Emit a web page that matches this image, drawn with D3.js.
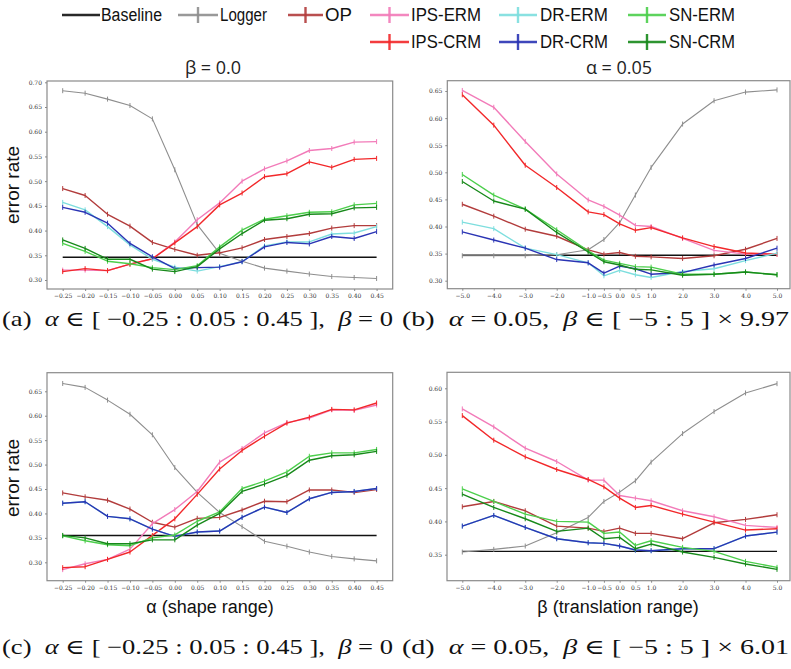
<!DOCTYPE html>
<html><head><meta charset="utf-8">
<script src="https://cdn.jsdelivr.net/npm/d3@7"></script>
<style>body{margin:0;background:#fff}svg{display:block}</style>
</head><body>
<svg id="chart" width="791" height="669"></svg>
<script>
// ---------- DATA ----------
const seriesNames = ["Logger","OP","IPS-ERM","IPS-CRM","DR-ERM","DR-CRM","SN-ERM","SN-CRM"];
const alphaVals = [-0.25,-0.20,-0.15,-0.10,-0.05,0.00,0.05,0.10,0.15,0.20,0.25,0.30,0.35,0.40,0.45];
const betaVals  = [-5,-4,-3,-2,-1,-0.5,0,0.5,1,2,3,4,5];
const alphaTickLabels = ["−0.25","−0.20","−0.15","−0.10","−0.05","0.00","0.05","0.10","0.15","0.20","0.25","0.30","0.35","0.40","0.45"];
const betaTickLabels  = ["−5.0","−4.0","−3.0","−2.0","−1.0","−0.5","0.0","0.5","1.0","2.0","3.0","4.0","5.0"];
const yTicksA = [0.30,0.35,0.40,0.45,0.50,0.55,0.60,0.65,0.70];
const yTicksB = [0.30,0.35,0.40,0.45,0.50,0.55,0.60,0.65];
const yTicksC = [0.30,0.35,0.40,0.45,0.50,0.55,0.60,0.65];
const yTicksD = [0.35,0.40,0.45,0.50,0.55,0.60];

// panel (a)
const aBaseline = 0.346;
const aLogger  = [0.683,0.678,0.666,0.653,0.626,0.523,0.412,0.354,0.338,0.324,0.318,0.312,0.307,0.305,0.303];
const aOP      = [0.485,0.471,0.433,0.409,0.376,0.362,0.350,0.355,0.365,0.382,0.388,0.394,0.405,0.410,0.410];
const aIPSERM  = [0.320,0.320,0.319,0.332,0.343,0.377,0.422,0.456,0.500,0.525,0.541,0.562,0.566,0.579,0.580];
const aIPSCRM  = [0.317,0.323,0.319,0.332,0.343,0.375,0.408,0.452,0.476,0.509,0.515,0.539,0.528,0.544,0.546];
const aDRERM   = [0.457,0.442,0.408,0.371,0.342,0.326,0.318,0.327,0.337,0.369,0.377,0.377,0.393,0.395,0.408];
const aDRCRM   = [0.447,0.437,0.415,0.374,0.347,0.323,0.325,0.326,0.337,0.367,0.376,0.373,0.388,0.384,0.398];
const aSNERM   = [0.374,0.358,0.338,0.333,0.325,0.321,0.329,0.367,0.401,0.423,0.430,0.437,0.438,0.452,0.455];
const aSNCRM   = [0.381,0.364,0.342,0.342,0.322,0.317,0.327,0.363,0.394,0.421,0.424,0.433,0.434,0.446,0.447];

// panel (b)
const bBaseline = 0.347;
const bLogger  = [0.346,0.346,0.346,0.348,0.357,0.376,0.407,0.458,0.509,0.589,0.632,0.648,0.652];
const bOP      = [0.441,0.419,0.395,0.382,0.357,0.349,0.352,0.345,0.344,0.341,0.346,0.358,0.378];
const bIPSERM  = [0.651,0.620,0.557,0.497,0.449,0.437,0.421,0.402,0.400,0.378,0.356,0.349,0.349];
const bIPSCRM  = [0.643,0.587,0.513,0.472,0.427,0.422,0.405,0.393,0.398,0.379,0.363,0.351,0.349];
const bDRERM   = [0.408,0.396,0.360,0.348,0.333,0.309,0.319,0.311,0.306,0.317,0.322,0.337,0.351];
const bDRCRM   = [0.390,0.375,0.360,0.339,0.333,0.314,0.327,0.322,0.312,0.315,0.329,0.341,0.360];
const bSNERM   = [0.496,0.458,0.432,0.394,0.355,0.338,0.332,0.326,0.325,0.312,0.312,0.316,0.311];
const bSNCRM   = [0.483,0.447,0.432,0.389,0.353,0.335,0.329,0.321,0.320,0.310,0.312,0.316,0.311];

// panel (c)
const cBaseline = 0.355;
const cLogger  = [0.666,0.658,0.632,0.603,0.561,0.494,0.443,0.402,0.373,0.343,0.333,0.321,0.312,0.307,0.303];
const cOP      = [0.442,0.434,0.427,0.409,0.382,0.372,0.390,0.392,0.407,0.425,0.424,0.448,0.448,0.443,0.449];
const cIPSERM  = [0.285,0.297,0.306,0.327,0.379,0.408,0.445,0.505,0.533,0.565,0.586,0.595,0.612,0.611,0.622];
const cIPSCRM  = [0.289,0.291,0.306,0.321,0.355,0.389,0.439,0.491,0.529,0.558,0.585,0.597,0.613,0.612,0.626];
const cDRERM   = [0.421,0.424,0.394,0.389,0.368,0.353,0.362,0.364,0.392,0.413,0.402,0.430,0.443,0.445,0.451];
const cDRCRM   = [0.421,0.424,0.394,0.389,0.368,0.353,0.362,0.364,0.392,0.413,0.402,0.430,0.443,0.445,0.451];
const cSNERM   = [0.354,0.344,0.336,0.334,0.350,0.356,0.384,0.403,0.451,0.466,0.485,0.517,0.524,0.524,0.531];
const cSNCRM   = [0.355,0.350,0.338,0.338,0.346,0.346,0.376,0.400,0.445,0.460,0.478,0.509,0.518,0.520,0.527];

// panel (d)
const dBaseline = 0.355;
const dLogger  = [0.354,0.358,0.363,0.383,0.406,0.430,0.444,0.461,0.489,0.532,0.565,0.593,0.607];
const dOP      = [0.422,0.430,0.416,0.393,0.390,0.385,0.390,0.382,0.382,0.374,0.398,0.403,0.410];
const dIPSERM  = [0.569,0.542,0.510,0.490,0.462,0.462,0.439,0.435,0.431,0.416,0.407,0.394,0.391];
const dIPSCRM  = [0.559,0.522,0.497,0.478,0.463,0.452,0.435,0.421,0.424,0.411,0.399,0.387,0.389];
const dDRERM   = [0.393,0.409,0.391,0.374,0.368,0.367,0.363,0.357,0.356,0.359,0.359,0.378,0.384];
const dDRCRM   = [0.393,0.409,0.391,0.374,0.368,0.367,0.363,0.357,0.356,0.359,0.359,0.378,0.384];
const dSNERM   = [0.449,0.430,0.411,0.400,0.399,0.382,0.384,0.364,0.371,0.361,0.355,0.340,0.331];
const dSNCRM   = [0.441,0.421,0.404,0.385,0.390,0.374,0.376,0.359,0.366,0.354,0.346,0.336,0.328];

// ---------- STYLE / LAYOUT ----------
const colors = {"Baseline":"#111111","Logger":"#8e8e8e","OP":"#b23c3c","IPS-ERM":"#f27bb9","IPS-CRM":"#f2282a",
  "DR-ERM":"#7ddede","DR-CRM":"#2a34b4","SN-ERM":"#4ccf4c","SN-CRM":"#17891a"};

const panels = [
  {xs:alphaVals, xLabels:alphaTickLabels, xDom:[-0.25,0.45], xR:[62.7,376.6], yDom:[0.30,0.70], yR:[280,82.3],
   frame:[47,81,392.7,289], yTicks:yTicksA, base:aBaseline,
   data:[aLogger,aOP,aIPSERM,aIPSCRM,aDRERM,aDRCRM,aSNERM,aSNCRM]},
  {xs:betaVals, xLabels:betaTickLabels, xDom:[-5,5], xR:[462.3,777], yDom:[0.30,0.65], yR:[280.7,91],
   frame:[447.3,80.7,790,288.7], yTicks:yTicksB, base:bBaseline,
   data:[bLogger,bOP,bIPSERM,bIPSCRM,bDRERM,bDRCRM,bSNERM,bSNCRM]},
  {xs:alphaVals, xLabels:alphaTickLabels, xDom:[-0.25,0.45], xR:[62.7,376.6], yDom:[0.30,0.65], yR:[562.3,391.3],
   frame:[47,372.7,392.7,580.7], yTicks:yTicksC, base:cBaseline,
   data:[cLogger,cOP,cIPSERM,cIPSCRM,cDRERM,cDRCRM,cSNERM,cSNCRM]},
  {xs:betaVals, xLabels:betaTickLabels, xDom:[-5,5], xR:[462.3,777], yDom:[0.35,0.60], yR:[554.7,388.3],
   frame:[447,372.3,790,580.7], yTicks:yTicksD, base:dBaseline,
   data:[dLogger,dOP,dIPSERM,dIPSCRM,dDRERM,dDRCRM,dSNERM,dSNCRM]}
];

const svg = d3.select("#chart");
const tickFont = "'DejaVu Serif','Liberation Serif',serif";

panels.forEach(p => {
  const x = d3.scaleLinear().domain(p.xDom).range(p.xR);
  const y = d3.scaleLinear().domain(p.yDom).range(p.yR);
  const [fx0, fy0, fx1, fy1] = p.frame;
  const g = svg.append("g");

  const xAxis = d3.axisBottom(x).tickValues(p.xs).tickFormat((d,i)=>p.xLabels[i]).tickSize(2).tickPadding(3);
  const gx = g.append("g").attr("transform",`translate(0,${fy1})`).call(xAxis);
  const yAxis = d3.axisLeft(y).tickValues(p.yTicks).tickFormat(d3.format(".2f")).tickSize(2).tickPadding(3);
  const gy = g.append("g").attr("transform",`translate(${fx0},0)`).call(yAxis);
  [gx,gy].forEach(a=>{
    a.select(".domain").remove();
    a.selectAll(".tick line").attr("stroke","#555").attr("stroke-width",0.7);
    a.selectAll(".tick text").attr("font-family",tickFont).attr("font-size",6).attr("fill","#333");
  });

  g.append("line").attr("x1",x(p.xs[0])).attr("x2",x(p.xs[p.xs.length-1]))
    .attr("y1",y(p.base)).attr("y2",y(p.base)).attr("stroke",colors["Baseline"]).attr("stroke-width",1.4);

  const line = d3.line().x((d,i)=>x(p.xs[i])).y(d=>y(d));
  p.data.forEach((vals, si) => {
    const name = seriesNames[si];
    const c = colors[name];
    const sw = name==="Logger" ? 1.1 : 1.4;
    g.append("path").datum(vals).attr("d",line).attr("fill","none").attr("stroke",c)
      .attr("stroke-width",sw).attr("stroke-linejoin","round");
    g.selectAll(null).data(vals).enter().append("line")
      .attr("x1",(d,i)=>x(p.xs[i])).attr("x2",(d,i)=>x(p.xs[i]))
      .attr("y1",d=>y(d)-2.5).attr("y2",d=>y(d)+2.5)
      .attr("stroke",c).attr("stroke-width",1);
  });

  g.append("rect").attr("x",fx0).attr("y",fy0).attr("width",fx1-fx0).attr("height",fy1-fy0)
    .attr("fill","none").attr("stroke","#8a8a8a").attr("stroke-width",1.2);
});

// ---------- LEGEND ----------
const legendItems = [
  {name:"Baseline", x0:62, x1:100, tx:101, tw:61, row:0, marker:false},
  {name:"Logger",   x0:178,x1:218, tx:220, tw:47, row:0, marker:true},
  {name:"OP",       x0:288,x1:323, tx:325, tw:27, row:0, marker:true},
  {name:"IPS-ERM",  x0:370,x1:409, tx:411, tw:70, row:0, marker:true},
  {name:"DR-ERM",   x0:499,x1:537, tx:540, tw:68, row:0, marker:true},
  {name:"SN-ERM",   x0:628,x1:666, tx:669, tw:66, row:0, marker:true},
  {name:"IPS-CRM",  x0:370,x1:409, tx:411, tw:70, row:1, marker:true},
  {name:"DR-CRM",   x0:499,x1:537, tx:540, tw:68, row:1, marker:true},
  {name:"SN-CRM",   x0:628,x1:666, tx:669, tw:66, row:1, marker:true}
];
const rowY = [15, 42];
const lg = svg.append("g");
legendItems.forEach(it=>{
  const yy = rowY[it.row];
  const c = colors[it.name];
  lg.append("line").attr("x1",it.x0).attr("x2",it.x1).attr("y1",yy).attr("y2",yy)
    .attr("stroke",c).attr("stroke-width",2.6).attr("opacity",0.9);
  if(it.marker){
    const mx=(it.x0+it.x1)/2;
    lg.append("line").attr("x1",mx).attr("x2",mx).attr("y1",yy-8).attr("y2",yy+8)
      .attr("stroke",c).attr("stroke-width",2.4).attr("opacity",0.9);
  }
  lg.append("text").attr("x",it.tx).attr("y",yy+6).text(it.name)
    .attr("font-family","'Liberation Sans Narrow','Liberation Sans',Arial,sans-serif").attr("font-size",18)
    .attr("textLength",it.tw).attr("lengthAdjust","spacingAndGlyphs").attr("fill","#111");
});

// ---------- TITLES / LABELS ----------
const sans = "'Liberation Sans',Arial,sans-serif";
svg.append("text").attr("x",213).attr("y",74).attr("text-anchor","middle").attr("font-family","'Open Sans',sans-serif")
  .attr("font-size",18).attr("fill","#222").text("β = 0.0");
svg.append("text").attr("x",619).attr("y",74).attr("text-anchor","middle").attr("font-family","'Open Sans',sans-serif")
  .attr("font-size",18).attr("fill","#222").text("α = 0.05");

[185, 478].forEach(cy=>{
  svg.append("text").attr("transform",`translate(19,${cy}) rotate(-90)`).attr("text-anchor","middle")
    .attr("font-family",sans).attr("font-size",19).attr("fill","#111").text("error rate");
});

svg.append("text").attr("x",210).attr("y",613).attr("text-anchor","middle").attr("font-family",sans)
  .attr("font-size",18).attr("fill","#111").text("α (shape range)");
svg.append("text").attr("x",618).attr("y",613).attr("text-anchor","middle").attr("font-family",sans)
  .attr("font-size",18).attr("fill","#111").text("β (translation range)");

const serif = "'Liberation Serif','DejaVu Serif',serif";
function caption(x, yy, w, parts){
  const t = svg.append("text").attr("x",x).attr("y",yy).attr("font-family",serif).attr("font-size",21)
    .attr("fill","#111").attr("xml:space","preserve").attr("textLength",w).attr("lengthAdjust","spacingAndGlyphs");
  parts.forEach(pt=>{ t.append("tspan").attr("font-style",pt[1]?"italic":"normal").text(pt[0]); });
}
caption(2, 326, 391, [["(a)  ",0],["α",1],[" ∈ [ −0.25 : 0.05 : 0.45 ],  ",0],["β",1],[" = 0",0]]);
caption(402, 326, 387, [["(b)  ",0],["α",1],[" = 0.05,  ",0],["β",1],[" ∈ [ −5 : 5 ] × 9.97",0]]);
caption(2, 654, 391, [["(c)  ",0],["α",1],[" ∈ [ −0.25 : 0.05 : 0.45 ],  ",0],["β",1],[" = 0",0]]);
caption(402, 654, 387, [["(d)  ",0],["α",1],[" = 0.05,  ",0],["β",1],[" ∈ [ −5 : 5 ] × 6.01",0]]);
</script>
</body></html>
